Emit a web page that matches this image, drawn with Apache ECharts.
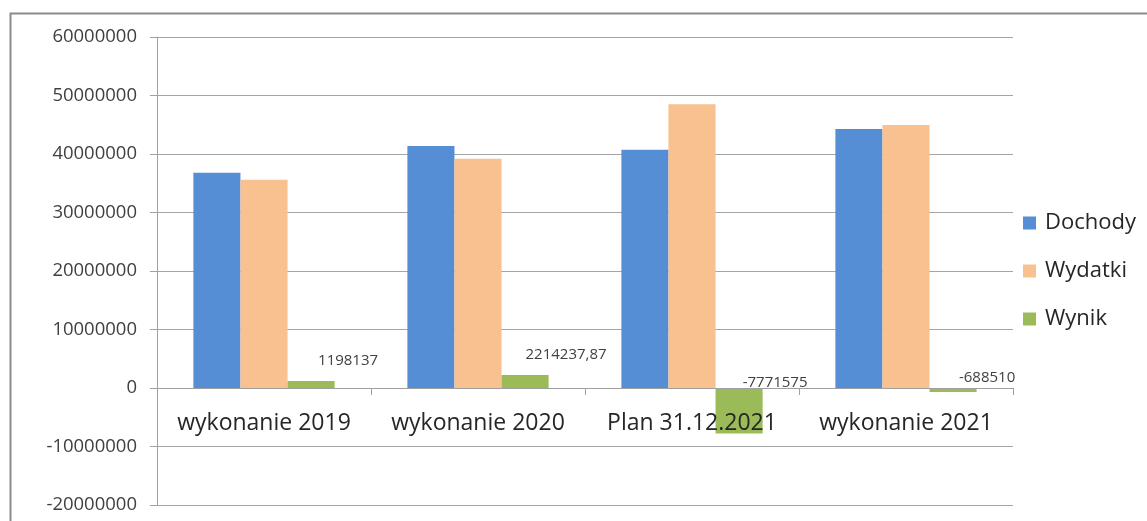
<!DOCTYPE html>
<html><head><meta charset="utf-8">
<script src="https://cdn.jsdelivr.net/npm/echarts@6/dist/echarts.min.js"></script>
<style>html,body{margin:0;padding:0;background:#fff}#c{width:1147px;height:521px}</style>
</head><body><div id="c"></div>
<script>
// ---- data ----
const categories = ['wykonanie 2019', 'wykonanie 2020', 'Plan 31.12.2021', 'wykonanie 2021'];
const dochody = [36780000, 41380000, 40730000, 44270000];
const wydatki = [35580000, 39170000, 48500000, 44960000];
const wynik = [1198137, 2214237.87, -7771575, -688510];
const seriesNames = ['Dochody', 'Wydatki', 'Wynik'];
const yMin = -20000000, yMax = 60000000, yStep = 10000000;

// ---- styling (not data) ----
const FONT = 'Open Sans';
const colors = ['#558ED5', '#F9C090', '#9BBB59'];
const wynikLabelOffsets = [[37, -8], [41, -8], [36, 7], [34, 2]];
const W = 1147, H = 521;
const gridBox = {left: 157, right: 134, top: 37, bottom: 16};
const gridH = H - gridBox.top - gridBox.bottom;
// move the category axis up to the value 0 line
const zeroOffset = -((0 - yMin) / (yMax - yMin)) * gridH;

const chart = echarts.init(document.getElementById('c'), null, {renderer: 'canvas'});
const fmt = v => String(v).replace('.', ',');

const series = [dochody, wydatki, wynik].map((arr, i) => ({
  name: seriesNames[i],
  type: 'bar',
  barGap: '0%',
  barCategoryGap: '34%',
  itemStyle: {color: colors[i]},
  data: arr.map((v, j) => i === 2 ? {
    value: v,
    label: {
      show: true, position: 'top', distance: 5,
      offset: wynikLabelOffsets[j],
      formatter: p => fmt(p.value),
      fontFamily: FONT, fontSize: 15, color: '#404040'
    }
  } : v)
}));

chart.setOption({
  animation: false,
  backgroundColor: '#fff',
  graphic: [{
    type: 'rect', left: 8, top: 11, z: 100, silent: true,
    shape: {width: 1160, height: 540},
    style: {fill: 'none', stroke: '#8c8c8c', lineWidth: 2}
  }],
  grid: Object.assign({containLabel: false, outerBoundsMode: 'none'}, gridBox),
  legend: {
    orient: 'vertical', left: 1018, top: 207,
    itemWidth: 13, itemHeight: 13, itemGap: 26,
    icon: 'rect',
    data: seriesNames,
    textStyle: {fontFamily: FONT, fontSize: 22, color: '#262626', padding: [0, 0, 0, 4]}
  },
  xAxis: {
    type: 'category', data: categories, z: 3,
    position: 'bottom', offset: zeroOffset,
    axisLine: {onZero: false, lineStyle: {color: '#a0a0a0', width: 1}},
    axisTick: {show: true, length: 7, lineStyle: {color: '#a0a0a0'}},
    axisLabel: {fontFamily: FONT, fontSize: 23, color: '#262626', margin: 24, interval: 0}
  },
  yAxis: {
    type: 'value', min: yMin, max: yMax, interval: yStep,
    axisLine: {show: true, lineStyle: {color: '#a0a0a0'}},
    axisTick: {show: true, length: 7, lineStyle: {color: '#a0a0a0'}},
    splitLine: {show: true, lineStyle: {color: '#a5a5a5', width: 1}},
    axisLabel: {fontFamily: FONT, fontSize: 18.5, color: '#404040', margin: 20, formatter: v => String(v)}
  },
  series: series
});
</script>
</body></html>
